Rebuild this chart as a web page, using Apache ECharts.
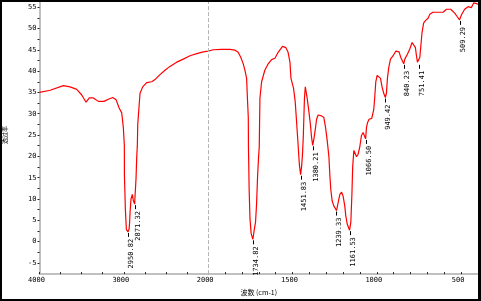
<!DOCTYPE html>
<html><head><meta charset="utf-8">
<script src="https://cdn.jsdelivr.net/npm/echarts@6/dist/echarts.min.js"></script>
<style>html,body{margin:0;padding:0;background:#fff}#c{width:481px;height:301px}</style>
</head><body><div id="c"></div>
<script>
const wavenumbers = [4000,3874,3717,3637,3558,3499,3448,3409,3361,3302,3235,3184,3132,3092,3057,3025,3006,2994,2993,2982,2970,2950.82,2938,2932,2926,2915,2899,2887,2871.32,2867,2855,2847,2840,2835,2808,2776,2729,2669,2630,2581,2512,2453,2373,2295,2215,2136,2058,2000,
1970,1920,1871,1841,1822,1806,1792,1782,1772,1768,1762,1761,1757,1752,1745,1734.82,1727,1719,1713,1707,1701,1697,1693,1683,1664,1644,1624,1604,1585,1559,1539,1526,1515,1509,1494,1484,1476,1467,1459,1451.83,1446,1441,1436,1429,1424,1419,1413,1403,1393,1387,1380.21,1373,1366,1357,1348,1328,1314,1304,1294,1284,1278,1273,1265,1255,1239.33,1235,1227,1219,1209,1200,1190,1184,1176,1161.53,1154,1148,1143,1136,1130,1120,1111,1101,1091,1081,1066.5,1061,1055,1046,1030,1018,1012,1006,998,988,978,969,959,949.42,943,937,929,919,903,887,877,868,858,840.23,834,818,805,791,781,771,765,759,751.41,745,739,732,722,710,696,686,667,637,607,587,562,538,524,509.29,498,479,459,439,425,414,400];
const transmittance = [35.0,35.5,36.6,36.3,35.7,34.4,32.7,33.7,33.7,32.9,32.9,33.4,33.8,33.3,31.4,30.2,26.8,22.6,15.7,7.7,2.9,2.3,2.9,4.3,6.9,10.0,11.1,9.6,8.8,10.7,14.9,19.9,22.4,27.5,34.8,36.3,37.3,37.5,38.0,39.0,40.2,41.1,42.1,42.8,43.6,44.1,44.5,44.7,
45.0,45.1,45.1,44.9,44.4,43.2,41.7,40.2,38.3,34.4,29.1,22.2,12.3,5.4,1.9,0.55,2.7,4.6,8.8,15.3,19.9,22.2,33.7,37.5,40.2,41.7,42.7,43.0,44.4,45.8,45.5,44.4,42.1,38.3,36.0,32.9,28.3,22.9,18.0,15.7,17.6,20.3,24.5,33.7,36.3,36.0,33.7,30.6,27.2,24.5,22.6,24.1,26.0,28.7,29.7,29.5,29.1,26.8,23.7,19.9,15.3,12.3,9.6,8.4,7.3,8.0,9.6,11.1,11.6,10.7,8.4,6.1,4.2,2.7,4.6,10.7,17.6,21.4,21.0,19.9,20.5,22.2,24.9,25.6,24.1,26.8,27.9,28.7,28.9,31.0,34.0,37.5,39.0,39.4,38.3,36.3,34.8,33.8,34.8,38.3,40.9,42.8,43.6,44.7,45.1,44.5,43.2,41.7,42.8,44.0,45.1,46.7,46.8,45.5,43.6,42.1,41.7,43.2,45.9,49.0,51.3,51.9,52.4,53.3,53.8,53.8,53.8,54.5,54.5,53.6,52.8,52.0,53.2,54.5,55.1,54.9,56.0,56.2,55.7];
const peakWavenumbers = [2950.82,2871.32,1734.82,1451.83,1380.21,1239.33,1161.53,1066.5,949.42,840.23,751.41,509.29];
const peakLabels = ['2950.82','2871.32','1734.82','1451.83','1380.21','1239.33','1161.53','1066.50','949.42','840.23','751.41','509.29'];
const xTickLabels = [4000,3000,2000,1500,1000,500];
const xTickMarks = [4000,3750,3500,3250,3000,2750,2500,2250,2000,1900,1800,1700,1600,1500,1400,1300,1200,1100,1000,900,800,700,600,500];
const yTickLabels = [-5,0,5,10,15,20,25,30,35,40,45,50,55];
const yTickMarks = [-5,-2.5,0,2.5,5,7.5,10,12.5,15,17.5,20,22.5,25,27.5,30,32.5,35,37.5,40,42.5,45,47.5,50,52.5,55];

// Axis scale changes at 2000 cm-1 (1000 per unit above, 500 per unit below)
function toT(wn){ return wn >= 2000 ? (4000 - wn) / 1000 : 2 + (2000 - wn) / 500; }
function fromT(t){ return t <= 2 ? 4000 - 1000 * t : 2000 - 500 * (t - 2); }

const lineData = wavenumbers.map((w, i) => [toT(w), transmittance[i]]);
const peakData = peakWavenumbers.map(w => [toT(w), transmittance[wavenumbers.indexOf(w)]]);
const mono = '"DejaVu Sans Mono", monospace';

const chart = echarts.init(document.getElementById('c'), null, {renderer: 'canvas'});
chart.setOption({
  animation: false,
  backgroundColor: '#fff',
  grid: {left: 39.5, right: 3, top: 2, bottom: 21, containLabel: false},
  xAxis: {
    type: 'value', min: 0, max: toT(400),
    axisLine: {show: true, onZero: false, lineStyle: {color: '#c0c0c0', width: 2}},
    axisTick: {show: true, inside: true, length: 2, lineStyle: {color: '#222', width: 1}, customValues: xTickMarks.map(toT)},
    axisLabel: {customValues: xTickLabels.map(toT), formatter: v => String(Math.round(fromT(v))),
      fontFamily: mono, fontSize: 7, color: '#000', margin: 3, padding: [0, 6, 0, 0]},
    splitLine: {show: false},
    name: '波数 (cm-1)', nameLocation: 'middle', nameGap: 11,
    nameTextStyle: {fontFamily: '"Noto Sans CJK SC", sans-serif', fontSize: 7, color: '#000'}
  },
  yAxis: {
    type: 'value', min: -7.6, max: 56.2,
    axisLine: {show: true, onZero: false, lineStyle: {color: '#c0c0c0', width: 2}},
    axisTick: {show: true, inside: false, length: 2, lineStyle: {color: '#222', width: 1}, customValues: yTickMarks},
    axisLabel: {customValues: yTickLabels, fontFamily: mono, fontSize: 7, color: '#000', margin: 3},
    splitLine: {show: false}
  },
  graphic: [
    {type: 'rect', shape: {x: 0, y: 0, width: 481, height: 2}, style: {fill: '#000'}, z: 100},
    {type: 'rect', shape: {x: 0, y: 0, width: 2, height: 301}, style: {fill: '#000'}, z: 100},
    {type: 'rect', shape: {x: 478, y: 0, width: 3, height: 301}, style: {fill: '#000'}, z: 100},
    {type: 'rect', shape: {x: 0, y: 299, width: 481, height: 2}, style: {fill: '#000'}, z: 100},
    {type: 'text', x: 5, y: 135, rotation: Math.PI / 2,
      style: {text: '透过率', font: '6px "Noto Sans CJK SC"', fill: '#000', align: 'center', verticalAlign: 'middle'}, z: 100}
  ],
  series: [
    {
      type: 'line', data: lineData, showSymbol: false, symbol: 'none',
      lineStyle: {color: '#ff0000', width: 1.2}, z: 3,
      markLine: {silent: true, symbol: 'none', label: {show: false},
        lineStyle: {color: '#b4b4b4', type: [4, 2], width: 1},
        data: [{xAxis: toT(2000)}]}
    },
    {
      type: 'custom', data: peakData, z: 4,
      renderItem: (params, api) => {
        const p = api.coord([api.value(0), api.value(1)]);
        const x = Math.round(p[0]) + 0.5;
        return {type: 'group', children: [
          {type: 'line', shape: {x1: x, y1: p[1] + 1, x2: x, y2: p[1] + 5}, style: {stroke: '#000', lineWidth: 1}},
          {type: 'text', x: x - 0.5, y: p[1] + 7, rotation: Math.PI / 2,
            style: {text: peakLabels[params.dataIndex], font: '7px ' + mono, fill: '#000', align: 'right', verticalAlign: 'top'}}
        ]};
      }
    }
  ]
});
</script></body></html>
